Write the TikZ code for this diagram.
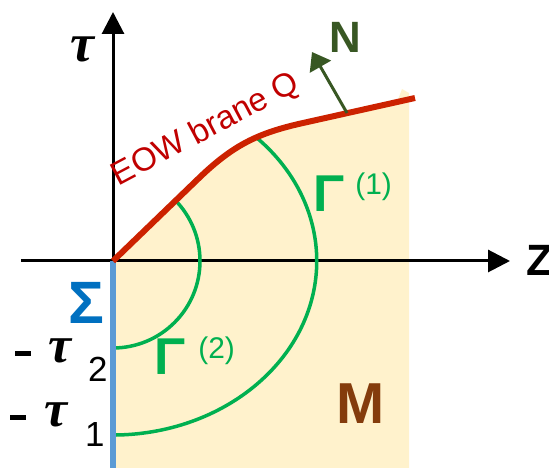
\documentclass[tikz,border=0pt]{standalone}
\usepackage{fontspec}
\setmainfont{Liberation Sans}
\newfontfamily\taufont{Liberation Serif}
\usepackage{xcolor}
\usepackage{tikz}
\usetikzlibrary{arrows.meta,calc}

\begin{document}
\begin{tikzpicture}[
      x=1bp, y=1bp,
      axis/.style={line width=3bp, black, -{Triangle[length=22bp,width=22bp]}},
      brane/.style={line width=6bp, braneline},
      gammaarc/.style={line width=3.5bp, gammagreen},
      normal/.style={line width=3bp, normalgreen, -{Triangle[length=17bp,width=24bp]}},
      biglab/.style={font=\fontsize{44}{44}\selectfont\bfseries, inner sep=0pt},
      taulab/.style={font=\fontsize{54}{54}\selectfont\taufont\bfseries\itshape, inner sep=0pt},
      gammalab/.style={font=\fontsize{52}{52}\selectfont\bfseries, text=gammagreen, inner sep=0pt, anchor=base west},
      negtau/.style={inner sep=0pt, anchor=base west},
    ]
    \definecolor{braneline}{RGB}{204,34,0}
    \definecolor{branetext}{RGB}{192,0,0}
    \definecolor{regionfill}{RGB}{255,242,204}
    \definecolor{gammagreen}{RGB}{0,176,80}
    \definecolor{normalgreen}{RGB}{56,87,35}
    \definecolor{sigmablue}{RGB}{91,155,213}
    \definecolor{sigmatext}{RGB}{0,112,192}
    \definecolor{mbrown}{RGB}{132,60,12}
    \newcommand{\supsz}{\fontsize{30}{30}\selectfont\mdseries}
    \newcommand{\subsz}{\fontsize{35}{35}\selectfont\mdseries}
    \newcommand{\negdash}{\rule[6.5bp]{16bp}{5bp}}
    \newcommand{\tausym}{{\fontsize{52}{52}\selectfont\taufont\bfseries\itshape τ}}

    \useasboundingbox (-113,-207) rectangle (436,261);

    \coordinate (O) at (0,0);
    \coordinate (zstart) at (-92,0);
    \coordinate (ztip) at (397,0);
    \coordinate (tautip) at (0,249);
    \coordinate (sigmaend) at (0,-207);
    \coordinate (Nfoot) at (234,148);
    \coordinate (Ntip) at (199,209);

    % region M under the brane
    \fill[regionfill] (O) -- (85,82) .. controls (120,116) and (145,128) .. (190,138)
      -- (284,159) -- (289,172) -- (296,168) -- (296,-207) -- (-2,-207) -- cycle;

    % axes
    \draw[axis] (zstart) -- (ztip);
    \draw[axis] (O) -- (tautip);

    % Gamma arcs
    \draw[gammaarc] (45:87) arc[start angle=45, end angle=-90, radius=87];
    \draw[gammaarc] (144,123) arc[start angle=45, end angle=-90, x radius=204, y radius=174];

    % Sigma and the brane
    \draw[line width=6bp, sigmablue] (O) -- (sigmaend);
    \draw[brane] (O) -- (85,82) .. controls (120,116) and (145,128) .. (190,138) -- (302,163);
    \draw[normal] (Nfoot) -- (Ntip);

    % labels
    \node[taulab] (taulabel) at (-31,212) {τ};
    \node[biglab] (zlabel) at (427,1) {Z};
    \node[biglab, text=normalgreen] (nlabel) at (232,224) {N};
    \node[font=\fontsize{33}{33}\selectfont, text=branetext, rotate=28, inner sep=0pt] (eow) at (93,131) {EOW brane Q};
    \node[gammalab] (gamma1) at (200,49) {Γ\hspace{11bp}\raisebox{17bp}{\supsz(1)}};
    \node[gammalab] (gamma2) at (41,-114) {Γ\hspace{13bp}\raisebox{16bp}{\supsz(2)}};
    \node[biglab, font=\fontsize{60}{60}\selectfont\bfseries, text=sigmatext] (sigma) at (-27,-42) {Σ};
    \node[negtau] (tau2) at (-98,-102) {\negdash\hspace{17bp}\tausym\hspace{17bp}\raisebox{-19bp}{\subsz 2}};
    \node[negtau] (tau1) at (-103,-166) {\negdash\hspace{18bp}\tausym\hspace{18bp}\raisebox{-19bp}{\subsz 1}};
    \node[biglab, font=\fontsize{58}{58}\selectfont\bfseries, text=mbrown] (mlabel) at (248,-143) {M};
  \end{tikzpicture}
\end{document}
